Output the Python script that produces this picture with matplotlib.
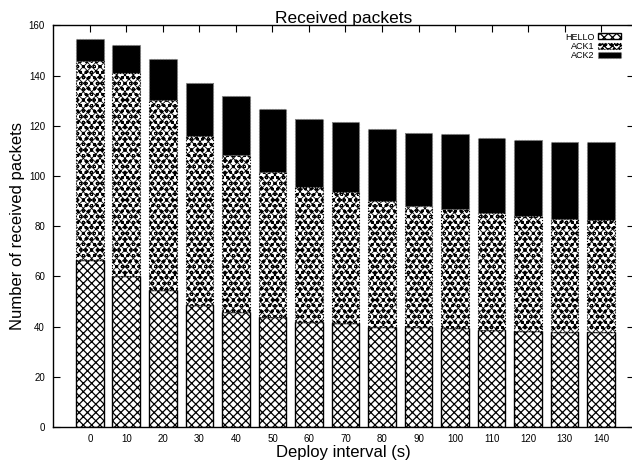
import matplotlib
matplotlib.use("Agg")
import matplotlib.pyplot as plt
import numpy as np

plt.rcParams['font.family'] = ['Liberation Sans', 'DejaVu Sans']
plt.rcParams['hatch.linewidth'] = 0.9

intervals = [0, 10, 20, 30, 40, 50, 60, 70, 80, 90, 100, 110, 120, 130, 140]
hello = [66.7, 60.1, 54.4, 48.4, 46.0, 43.7, 41.7, 41.3, 39.9, 39.7, 39.3, 38.7, 38.3, 37.9, 37.8]
ack1 = [79.0, 80.9, 75.7, 67.4, 62.3, 57.8, 53.8, 52.4, 50.0, 48.3, 47.6, 46.5, 45.6, 44.8, 44.5]
ack2 = [8.7, 11.2, 16.6, 21.1, 23.4, 25.3, 27.1, 27.6, 28.7, 29.1, 29.7, 30.0, 30.5, 30.9, 31.1]

W, H = 632, 463
fig = plt.figure(figsize=(W / 100, H / 100), dpi=100)
ax = fig.add_axes([53.3 / W, 1 - 427 / H, (634 - 53.3) / W, (427 - 25.3) / H])

x = np.arange(len(intervals))
hello = np.array(hello)
ack1 = np.array(ack1)
ack2 = np.array(ack2)
bw = 0.76

ax.bar(x, hello, bw, color='white', edgecolor='black', hatch='xxxx',
       linewidth=1.0, label='HELLO')
# thinner pattern lines for the middle segment
with plt.rc_context({'hatch.linewidth': 0.6}):
    ax.bar(x, ack1, bw, bottom=hello, color='white', edgecolor='black',
           hatch='xxxxooo', linewidth=0.8, linestyle=':', label='ACK1')
ax.bar(x, ack2, bw, bottom=hello + ack1, color='black', edgecolor='#777777',
       linewidth=0.8, linestyle=':', label='ACK2')

ax.set_xlim(-1, 14.9)
ax.set_ylim(0, 160)
ax.set_xticks(x)
ax.set_xticklabels([str(v) for v in intervals])
ax.set_yticks(np.arange(0, 161, 20))

ax.tick_params(axis='both', direction='in', length=5, width=0.8, labelsize=7,
               top=True, right=True, bottom=False, colors='black')
ax.tick_params(axis='x', pad=5)
ax.tick_params(axis='y', pad=6)
for s in ax.spines.values():
    s.set_linewidth(1.0)

ax.set_title('Received packets', fontsize=12.5, pad=2)
ax.set_xlabel('Deploy interval (s)', fontsize=12, labelpad=1)
ax.set_ylabel('Number of received packets', fontsize=12, labelpad=3)

leg = ax.legend(loc='upper right', bbox_to_anchor=(626 / W, 1 - 28 / H),
                bbox_transform=fig.transFigure, frameon=False, fontsize=6.5,
                markerfirst=False, handlelength=2.6, handleheight=0.6,
                labelspacing=0.05, borderpad=0, handletextpad=0.4)
for t in leg.get_texts():
    t.set_ha('right')

fig.savefig('out.png', dpi=100)
